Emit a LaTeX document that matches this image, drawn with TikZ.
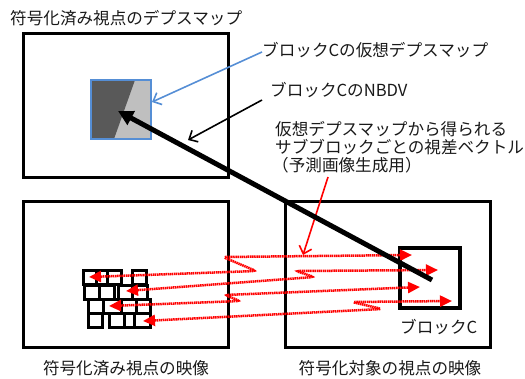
\documentclass[tikz,border=0pt]{standalone}
\usepackage{fontspec}
\setmainfont{Noto Sans CJK JP}
\usetikzlibrary{arrows.meta}
\definecolor{dgray}{RGB}{89,89,89}
\definecolor{lgray}{RGB}{191,191,191}
\definecolor{bblue}{RGB}{85,142,213}
\definecolor{txt}{RGB}{25,25,25}
\begin{document}
\begin{tikzpicture}[x=1pt,y=-1pt,
  frame/.style={draw=black, line width=3pt, inner sep=0pt, outer sep=0pt},
  cell/.style={draw=black, line width=2.5pt, inner sep=0pt, minimum height=14pt, anchor=north west},
  lbl/.style={text=txt, inner sep=0pt, font=\fontsize{16.6}{18.5}\selectfont, anchor=base west},
  lblc/.style={lbl, anchor=base},
  redrow/.style={red, line width=2.5pt, dash pattern=on 1.5pt off 0.6pt, rounded corners=3pt,
    {Triangle[length=12pt,width=11pt]}-{Triangle[length=12pt,width=11pt]}},
  thinarr/.style={line width=1.6pt, -{Straight Barb[length=7pt,width=13pt]}},
]
\useasboundingbox (0,0) rectangle (525,378);

% frames
\node[frame, minimum width=205pt, minimum height=144pt] (tl) at (125.5,105) {};
\node[frame, minimum width=205pt, minimum height=146pt] (bl) at (125.5,274) {};
\node[frame, minimum width=205pt, minimum height=146pt] (br) at (387.5,274) {};
\node[draw=black, line width=3.8pt, inner sep=0pt, minimum width=60pt, minimum height=60pt] (blkc) at (430,278) {};

% virtual depth block
\node[draw=bblue, line width=2.2pt, fill=lgray, minimum width=60pt, minimum height=59pt, inner sep=0pt,
  path picture={\fill[dgray] (path picture bounding box.north west) -- ++(44pt,0pt) -- ++(-21pt,-59pt)
  -- (path picture bounding box.south west) -- cycle;}] (dep) at (121,109.5) {};

% sub-block grid
\foreach \px/\py/\w [count=\i] in {82/269/13, 95/269/11, 106/269/14, 131/269/14,
  83/284/15, 98/284/15, 117/284/14, 131/284/15,
  87/298/15, 102/298/18, 120/298/15, 135/298/14,
  87/312/14, 108/312/15, 123/312/10, 133/312/16}
  \node[cell, minimum width=\w pt] (g\i) at (\px,\py) {};

% labels
\node[lbl] (title) at (10,24) {符号化済み視点のデプスマップ};
\node[lbl] (lblvd) at (262,56) {ブロックCの仮想デプスマップ};
\node[lbl] (lblnb) at (270,96) {ブロックCのNBDV};
\node[lbl] (lbldv1) at (275,135) {仮想デプスマップから得られる};
\node[lbl] (lbldv2) at (275,153) {サブブロックごとの視差ベクトル};
\node[lbl] (lbldv3) at (272,171) {（予測画像生成用）};
\node[lbl] (lblc) at (400,333) {ブロックC};
\node[lblc] (capl) at (126,374) {符号化済み視点の映像};
\node[lblc] (capr) at (390,374) {符号化対象の視点の映像};

% coordinates
\coordinate (vdstart) at (262,52);
\coordinate (vdend) at (152,102);
\coordinate (nbstart) at (262,100);
\coordinate (nbend) at (188,140);
\coordinate (dvstart) at (328,177);
\coordinate (dvend) at (303,255);
\coordinate (r1L) at (89,277);  \coordinate (r1R) at (412,255);
\coordinate (r2L) at (126,291); \coordinate (r2R) at (438,270);
\coordinate (r3L) at (109,306); \coordinate (r3R) at (420,287);
\coordinate (r4L) at (143,321); \coordinate (r4R) at (452,301);
\coordinate (thS) at (432,280);
\coordinate (thE) at (118,111);

% red rows
\draw[redrow] (r1L) -- (256,271) -- (223,257) -- (r1R);
\draw[redrow] (r2L) -- (314,277) -- (296,271) -- (r2R);
\draw[redrow] (r3L) -- (240,301) -- (225,295) -- (r3R);
\draw[redrow] (r4L) -- (382,309) -- (352,302) -- (r4R);

% callout arrows
\draw[thinarr, bblue] (vdstart) -- (vdend);
\draw[thinarr, black] (nbstart) -- (nbend);
\draw[thinarr, red] (dvstart) -- (dvend);

% NBDV thick arrow
\draw[line width=5pt, -{Triangle[length=15pt,width=15pt]}] (thS) -- (thE);
\end{tikzpicture}
\end{document}
